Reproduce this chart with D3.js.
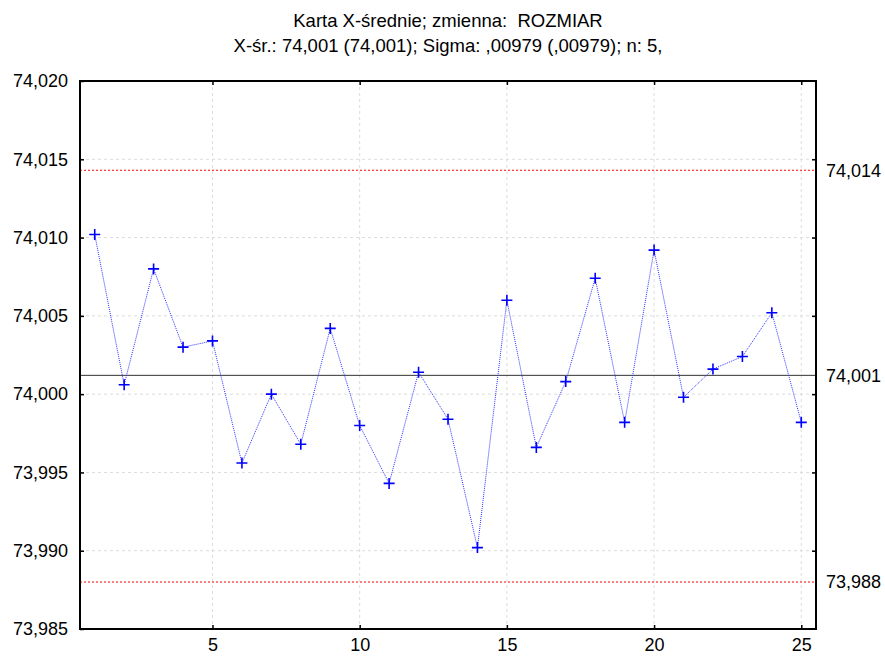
<!DOCTYPE html>
<html>
<head>
<meta charset="utf-8">
<script src="https://cdn.jsdelivr.net/npm/d3@7"></script>
<style>
body { margin: 0; background: #fff; }
svg { display: block; }
</style>
</head>
<body>
<div id="svg"></div>
<script>
///////////////Data

var samples = [1, 2, 3, 4, 5, 6, 7, 8, 9, 10, 11, 12, 13, 14, 15, 16, 17, 18, 19, 20, 21, 22, 23, 24, 25];
var means = [74.0102, 74.0006, 74.0080, 74.0030, 74.0034, 73.9956, 74.0000, 73.9968, 74.0042, 73.9980,
             73.9943, 74.0014, 73.9984, 73.9902, 74.0060, 73.9966, 74.0008, 74.0074, 73.9982, 74.0092,
             73.9998, 74.0016, 74.0024, 74.0052, 73.9982];
var limitValues = [74.0143, 74.0012, 73.9880];
var limitLabels = ["74,014", "74,001", "73,988"];
var yTicks = [73.985, 73.990, 73.995, 74.000, 74.005, 74.010, 74.015, 74.020];
var xTicks = [5, 10, 15, 20, 25];
var titleLines = ["Karta X-średnie; zmienna:  ROZMIAR",
                  "X-śr.: 74,001 (74,001); Sigma: ,00979 (,00979); n: 5,"];

///////////////Graph

var svgWidth = 885, svgHeight = 656;
var plotLeft = 80, plotRight = 816, plotTop = 81, plotBottom = 629;
var fontFamily = "'Liberation Sans', Arial, sans-serif";
var tickLen = 4;

var svg = d3.select("div#svg").append("svg")
    .attr("width", svgWidth)
    .attr("height", svgHeight);

var x = d3.scaleLinear().domain([0.5, 25.5]).range([plotLeft, plotRight]);
var y = d3.scaleLinear().domain([73.985, 74.020]).range([plotBottom, plotTop]);

function fmt(v) { return d3.format(".3f")(v).replace(".", ","); }

//title
svg.selectAll("text.title")
    .data(titleLines)
    .enter().append("text")
    .attr("class", "title")
    .attr("x", 448)
    .attr("y", function(d, i) { return 27 + i * 25; })
    .attr("text-anchor", "middle")
    .attr("font-family", fontFamily)
    .attr("font-size", 18.5)
    .style("white-space", "pre")
    .text(function(d) { return d; });

//grid
var grid = svg.append("g").attr("id", "grid");
grid.selectAll("line.gy")
    .data(yTicks.slice(1, -1))
    .enter().append("line")
    .attr("x1", plotLeft).attr("x2", plotRight)
    .attr("y1", function(d) { return y(d); })
    .attr("y2", function(d) { return y(d); })
    .style("stroke", "#dcdcdc").style("stroke-dasharray", "3,3").style("stroke-width", 1);
grid.selectAll("line.gx")
    .data(xTicks)
    .enter().append("line")
    .attr("y1", plotTop).attr("y2", plotBottom)
    .attr("x1", function(d) { return x(d); })
    .attr("x2", function(d) { return x(d); })
    .style("stroke", "#dcdcdc").style("stroke-dasharray", "3,3").style("stroke-width", 1);

//control limits
var limits = svg.append("g").attr("id", "limits");
limits.selectAll("line")
    .data(limitValues)
    .enter().append("line")
    .attr("x1", plotLeft).attr("x2", plotRight)
    .attr("y1", function(d) { return y(d); })
    .attr("y2", function(d) { return y(d); })
    .style("stroke", function(d, i) { return i === 1 ? "#333" : "#ff0000"; })
    .style("stroke-dasharray", function(d, i) { return i === 1 ? null : "2,2"; })
    .style("stroke-width", 1);
limits.selectAll("text")
    .data(limitValues)
    .enter().append("text")
    .attr("x", plotRight + 10)
    .attr("y", function(d) { return y(d); })
    .attr("dy", "0.35em")
    .attr("font-family", fontFamily)
    .attr("font-size", 18)
    .text(function(d, i) { return limitLabels[i]; });

//axes (ticks inside on all four sides)
var axisLeft = d3.axisLeft(y).tickValues(yTicks).tickSizeInner(-tickLen).tickSizeOuter(0).tickPadding(12).tickFormat(fmt);
var axisRight = d3.axisRight(y).tickValues(yTicks.slice(1, -1)).tickSizeInner(-tickLen).tickSizeOuter(0).tickFormat("");
var axisBottom = d3.axisBottom(x).tickValues(xTicks).tickSizeInner(-tickLen).tickSizeOuter(0).tickPadding(9).tickFormat(d3.format("d"));
var axisTop = d3.axisTop(x).tickValues(xTicks).tickSizeInner(-tickLen).tickSizeOuter(0).tickFormat("");

var axes = [
    svg.append("g").attr("transform", "translate(" + plotLeft + ",0)").call(axisLeft),
    svg.append("g").attr("transform", "translate(" + plotRight + ",0)").call(axisRight),
    svg.append("g").attr("transform", "translate(0," + plotBottom + ")").call(axisBottom),
    svg.append("g").attr("transform", "translate(0," + plotTop + ")").call(axisTop)
];
axes.forEach(function(g) {
    g.select(".domain").remove();
    g.selectAll("line").style("stroke", "#000").style("stroke-width", 1.5);
    g.selectAll("text")
        .attr("font-family", fontFamily)
        .attr("font-size", 18)
        .attr("fill", "#000");
});

//frame
svg.append("rect")
    .attr("x", plotLeft).attr("y", plotTop)
    .attr("width", plotRight - plotLeft).attr("height", plotBottom - plotTop)
    .attr("fill", "none")
    .style("stroke", "#000").style("stroke-width", 2);

//series line
var line = d3.line()
    .x(function(d, i) { return x(samples[i]); })
    .y(function(d) { return y(d); });
svg.append("path")
    .datum(means)
    .attr("d", line)
    .attr("fill", "none")
    .style("stroke", "#3030ff").style("stroke-width", 1).style("stroke-dasharray", "1,1");

//markers
var cross = d3.symbol().type({
    draw: function(ctx, size) {
        var r = 5.5;
        ctx.moveTo(-r, 0); ctx.lineTo(r, 0);
        ctx.moveTo(0, -r); ctx.lineTo(0, r);
    }
});
svg.selectAll("path.mark")
    .data(means)
    .enter().append("path")
    .attr("class", "mark")
    .attr("transform", function(d, i) { return "translate(" + x(samples[i]) + "," + y(d) + ")"; })
    .attr("d", cross)
    .attr("fill", "none")
    .style("stroke", "#0000ff").style("stroke-width", 1.6);
</script>
</body>
</html>
